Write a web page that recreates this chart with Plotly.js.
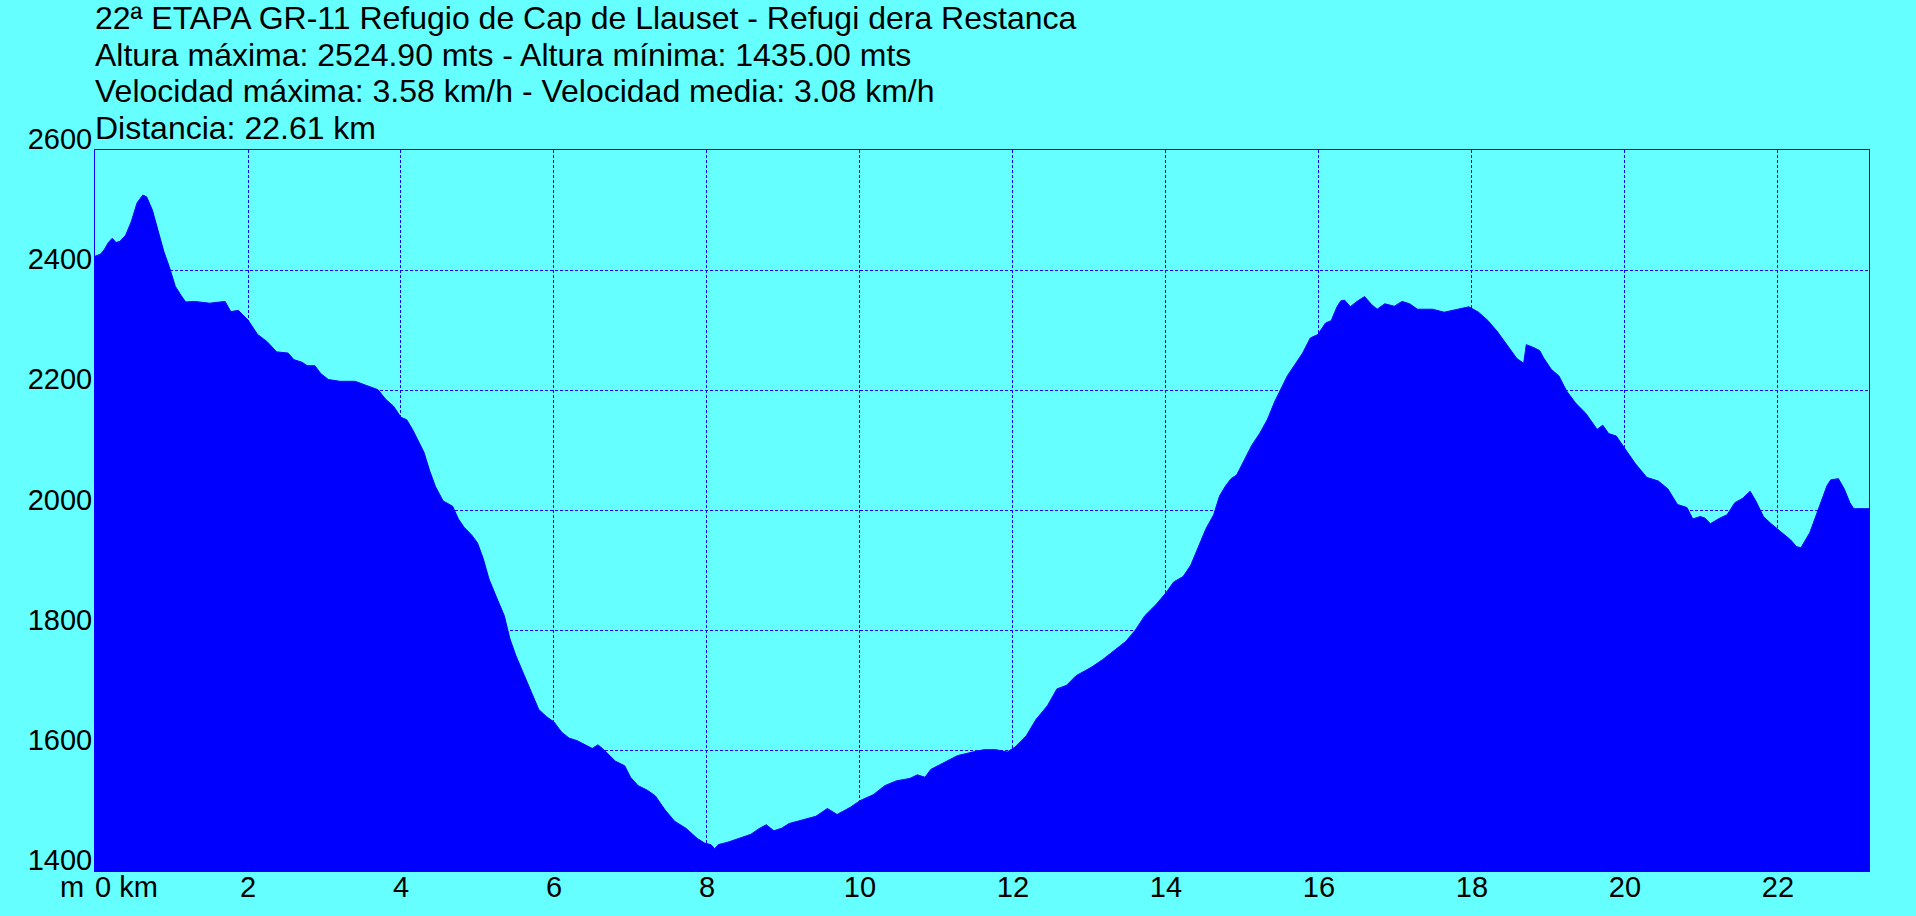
<!DOCTYPE html>
<html>
<head>
<meta charset="utf-8">
<script src="https://cdn.plot.ly/plotly-3.0.1.min.js"></script>
<style>
html,body{margin:0;padding:0;background:#66FFFF;}
#chart{width:1916px;height:916px;}
</style>
</head>
<body>
<div id="chart"></div>
<script>
// Distance along the route (km)
const distanceKm = [
  0, 0.075, 0.125, 0.175, 0.225, 0.275, 0.325, 0.4, 0.475, 0.55, 0.625, 0.675, 0.75, 0.825, 0.9, 0.975,
  1.05, 1.125, 1.185, 1.3, 1.5, 1.7, 1.775, 1.875, 2.0, 2.125, 2.25, 2.375, 2.525, 2.6, 2.7, 2.775,
  2.875, 2.95, 3.05, 3.2, 3.4, 3.55, 3.7, 3.8, 3.9, 4.0, 4.075, 4.15, 4.225, 4.3, 4.375, 4.45,
  4.55, 4.675, 4.75, 4.825, 4.925, 5.0, 5.075, 5.15, 5.25, 5.35, 5.425, 5.5, 5.6, 5.7, 5.8, 5.9,
  6.0, 6.1, 6.2, 6.3, 6.4, 6.5, 6.575, 6.65, 6.8, 6.925, 7.0, 7.1, 7.225, 7.325, 7.45, 7.575,
  7.725, 7.874, 7.974, 8.05, 8.1, 8.15, 8.274, 8.424, 8.574, 8.674, 8.774, 8.874, 8.974, 9.074,
  9.224, 9.424, 9.574, 9.7, 9.874, 10.0, 10.174, 10.324, 10.474, 10.65, 10.75, 10.85, 10.925,
  11.074, 11.274, 11.474, 11.624, 11.774, 11.924, 12.024, 12.174, 12.3, 12.45, 12.574, 12.7,
  12.824, 13.024, 13.174, 13.324, 13.474, 13.6, 13.724, 13.874, 14.0, 14.1, 14.224, 14.324,
  14.424, 14.524, 14.624, 14.7, 14.774, 14.85, 14.924, 15.0, 15.124, 15.224, 15.324, 15.424,
  15.524, 15.586, 15.686, 15.786, 15.886, 15.986, 16.086, 16.16, 16.236, 16.286, 16.336, 16.41,
  16.486, 16.596, 16.686, 16.76, 16.86, 16.986, 17.086, 17.186, 17.286, 17.486, 17.636, 17.786,
  17.96, 18.086, 18.21, 18.336, 18.486, 18.586, 18.676, 18.71, 18.81, 18.886, 18.936, 19.036,
  19.136, 19.236, 19.36, 19.486, 19.636, 19.71, 19.786, 19.886, 20.01, 20.136, 20.286, 20.436,
  20.56, 20.686, 20.81, 20.886, 20.986, 21.05, 21.116, 21.236, 21.336, 21.436, 21.536, 21.636,
  21.71, 21.81, 21.91, 22.04, 22.166, 22.24, 22.3, 22.416, 22.49, 22.566, 22.64, 22.69, 22.79,
  22.866, 22.94, 22.99, 23.19
];
// Elevation (m)
const elevationM = [
  2423, 2427, 2435, 2446, 2453, 2446, 2448, 2458, 2481, 2512, 2525, 2522, 2500, 2466, 2431, 2404,
  2373, 2358, 2347, 2348, 2345, 2348, 2331, 2333, 2317, 2293, 2281, 2264, 2262, 2251, 2247, 2241,
  2241, 2228, 2218, 2215, 2215, 2208, 2201, 2185, 2174, 2155, 2151, 2135, 2116, 2097, 2066, 2040,
  2016, 2007, 1986, 1972, 1959, 1946, 1920, 1886, 1855, 1825, 1786, 1759, 1729, 1698, 1669, 1657,
  1648, 1631, 1621, 1617, 1610, 1604, 1610, 1602, 1583, 1575, 1556, 1542, 1534, 1525, 1502, 1483,
  1471, 1454, 1446, 1444, 1437, 1444, 1448, 1454, 1461, 1470, 1477, 1467, 1471, 1479,
  1484, 1491, 1504, 1494, 1506, 1517, 1527, 1542, 1550, 1554, 1560, 1556, 1569,
  1579, 1592, 1598, 1602, 1602, 1598, 1606, 1625, 1652, 1675, 1703, 1709,
  1725, 1739, 1752, 1767, 1782, 1801, 1825, 1844, 1863, 1881, 1890, 1909,
  1940, 1970, 1993, 2024, 2040, 2053, 2059, 2078, 2109, 2128, 2151, 2182,
  2208, 2224, 2243, 2262, 2287, 2293, 2312, 2316, 2339, 2349, 2350, 2339,
  2347, 2356, 2343, 2335, 2344, 2340, 2348, 2344, 2335, 2335, 2330, 2334,
  2339, 2330, 2316, 2297, 2271, 2253, 2245, 2276, 2271, 2266, 2254, 2235,
  2224, 2199, 2178, 2162, 2135, 2142, 2128, 2124, 2101, 2078, 2055, 2049,
  2036, 2010, 2005, 1986, 1990, 1987, 1978, 1987, 1993, 2013, 2020, 2032,
  2016, 1990, 1978, 1964, 1951, 1940, 1938, 1963, 1990, 2015, 2041, 2051, 2053,
  2036, 2013, 2003, 2003
];

const yTickVals = [1400, 1600, 1800, 2000, 2200, 2400, 2600];
const yTickText = ['1400', '1600', '1800', '2000', '2200', '2400', '2600'];
const xTickVals = [2, 4, 6, 8, 10, 12, 14, 16, 18, 20, 22];
const xTickText = ['2', '4', '6', '8', '10', '12', '14', '16', '18', '20', '22'];
const titleLines = [
  '22ª ETAPA GR-11 Refugio de Cap de Llauset - Refugi dera Restanca',
  'Altura máxima: 2524.90 mts - Altura mínima: 1435.00 mts',
  'Velocidad máxima: 3.58 km/h - Velocidad media: 3.08 km/h',
  'Distancia: 22.61 km'
];
const yUnitLabel = 'm';
const xOriginLabel = '0 km';

const FONT = '"Liberation Sans", Arial, sans-serif';
const BLUE = '#0000FF';
const CYAN = '#66FFFF';

const W = 1916, H = 916;
const margin = {l: 95, r: 47, t: 150, b: 45};
const plotH = H - margin.t - margin.b;
function paperY(px) { return (H - margin.b - px) / plotH; }

const titleBaselines = [29, 66, 102, 139];
const titleSize = 32;
const tickSize = 29;
const annotations = titleLines.map((t, i) => ({
  text: t, xref: 'paper', yref: 'paper', x: 0, xanchor: 'left',
  y: paperY(titleBaselines[i] - 0.3465 * titleSize), yanchor: 'middle',
  showarrow: false, borderpad: 0, borderwidth: 0,
  font: {family: FONT, size: titleSize, color: '#000'}
}));
annotations.push({
  text: yUnitLabel, xref: 'paper', yref: 'paper', x: 0, xshift: -11, xanchor: 'right',
  y: 0, yanchor: 'top', showarrow: false, borderpad: 0, borderwidth: 0,
  font: {family: FONT, size: tickSize, color: '#000'}
});
annotations.push({
  text: xOriginLabel, xref: 'x', yref: 'paper', x: 0, xanchor: 'left',
  y: 0, yanchor: 'top', showarrow: false, borderpad: 0, borderwidth: 0,
  font: {family: FONT, size: tickSize, color: '#000'}
});

const trace = {
  x: distanceKm, y: elevationM, type: 'scatter', mode: 'lines',
  fill: 'tozeroy', fillcolor: BLUE,
  line: {color: BLUE, width: 1},
  hoverinfo: 'skip'
};

const layout = {
  width: W, height: H, margin: margin,
  paper_bgcolor: CYAN, plot_bgcolor: CYAN,
  showlegend: false,
  font: {family: FONT, size: tickSize, color: '#000'},
  xaxis: {
    range: [0, 23.19], tickvals: xTickVals, ticktext: xTickText,
    showgrid: true, gridcolor: BLUE, gridwidth: 1, griddash: '3px,2px',
    zeroline: false, showline: true, mirror: true, linecolor: BLUE, linewidth: 1,
    ticks: '', tickfont: {family: FONT, size: tickSize, color: '#000'},
    ticklabelstandoff: -10,
    fixedrange: true, automargin: false
  },
  yaxis: {
    range: [1400, 2600], tickvals: yTickVals, ticktext: yTickText,
    showgrid: true, gridcolor: BLUE, gridwidth: 1, griddash: '3px,2px',
    zeroline: false, showline: true, mirror: true, linecolor: BLUE, linewidth: 1,
    ticks: '', tickfont: {family: FONT, size: tickSize, color: '#000'},
    ticklabelshift: -11, ticklabelstandoff: -4,
    fixedrange: true, automargin: false
  },
  annotations: annotations
};

Plotly.newPlot('chart', [trace], layout, {displayModeBar: false, staticPlot: true});
</script>
</body>
</html>
